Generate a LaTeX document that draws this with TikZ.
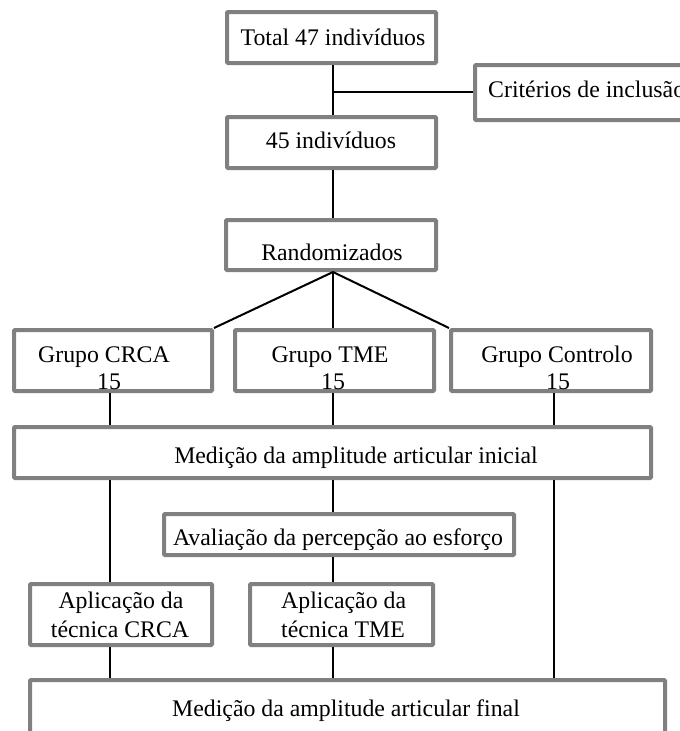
\documentclass[tikz,border=0pt]{standalone}
\usepackage{fontspec}
\setmainfont{Liberation Serif}
\begin{document}
\begin{tikzpicture}[x=1pt,y=-1pt,
  box/.style={draw=boxgray,line width=4pt,inner sep=0pt,fill=white,rounded corners=1pt},
  txt/.style={anchor=base,inner sep=0pt,font=\fontsize{23.8}{27}\selectfont},
  conn/.style={line width=2pt,black}]
\definecolor{boxgray}{RGB}{128,128,128}
\useasboundingbox (0,0) rectangle (680,731);
\clip (0,0) rectangle (680,731);
\newcommand{\bx}[5]{\node[box,minimum width={(#4-#2-4)*1pt},minimum height={(#5-#3-4)*1pt}] (#1) at ({(#2+#4)/2},{(#3+#5)/2}) {};}
\coordinate (colA) at (110,0);
\coordinate (colB) at (333,0);
\coordinate (colC) at (554,0);
\coordinate (j1) at (333,92);
% boxes
\bx{t47}{225}{10}{438}{65}
\bx{crit}{473}{63}{700}{122}
\bx{i45}{225}{115}{438}{170}
\bx{rand}{224}{218}{438}{272}
\bx{crca}{12}{328}{214}{393}
\bx{tme}{233}{328}{436}{393}
\bx{ctrl}{449}{328}{653}{393}
\bx{ini}{12}{425}{653}{480}
\bx{aval}{162}{512}{516}{557}
\bx{appA}{28}{582}{214}{647}
\bx{appB}{248}{582}{435}{647}
\bx{fin}{28}{678}{667}{745}
% connectors
\draw[conn] (t47.south -| colB) -- (i45.north -| colB);
\draw[conn] (j1) -- (crit.west |- j1);
\draw[conn] (i45.south -| colB) -- (rand.north -| colB);
\draw[conn] (rand.south -| colB) -- (crca.north east);
\draw[conn] (rand.south -| colB) -- (tme.north -| colB);
\draw[conn] (rand.south -| colB) -- (ctrl.north west);
\draw[conn] (crca.south -| colA) -- (ini.north -| colA);
\draw[conn] (tme.south -| colB) -- (ini.north -| colB);
\draw[conn] (ctrl.south -| colC) -- (ini.north -| colC);
\draw[conn] (ini.south -| colA) -- (appA.north -| colA);
\draw[conn] (ini.south -| colB) -- (aval.north -| colB);
\draw[conn] (ini.south -| colC) -- (fin.north -| colC);
\draw[conn] (aval.south -| colB) -- (appB.north -| colB);
\draw[conn] (appA.south -| colA) -- (fin.north -| colA);
\draw[conn] (appB.south -| colB) -- (fin.north -| colB);
% texts
\node[txt] (tt47) at (333,45) {Total 47 indivíduos};
\node[txt,anchor=base west] (tcrit) at (488,97) {Critérios de inclusão};
\node[txt] (ti45) at (331,148) {45 indivíduos};
\node[txt] (trand) at (332,260) {Randomizados};
\node[txt] (tcrca) at (104,362) {Grupo CRCA};
\node[txt] (tcrca2) at (109,389) {15};
\node[txt] (ttme) at (330,362) {Grupo TME};
\node[txt] (ttme2) at (333,389) {15};
\node[txt] (tctrl) at (557,362) {Grupo Controlo};
\node[txt] (tctrl2) at (558,389) {15};
\node[txt] (tini) at (356,463) {Medição da amplitude articular inicial};
\node[txt] (taval) at (338,545) {Avaliação da percepção ao esforço};
\node[txt] (tappA1) at (121,608) {Aplicação da};
\node[txt] (tappA2) at (120,637) {técnica CRCA};
\node[txt,anchor=base west] (tappB1) at (281,608) {Aplicação da};
\node[txt,anchor=base west] (tappB2) at (281,637) {técnica TME};
\node[txt] (tfin) at (346,716) {Medição da amplitude articular final};
\end{tikzpicture}
\end{document}
